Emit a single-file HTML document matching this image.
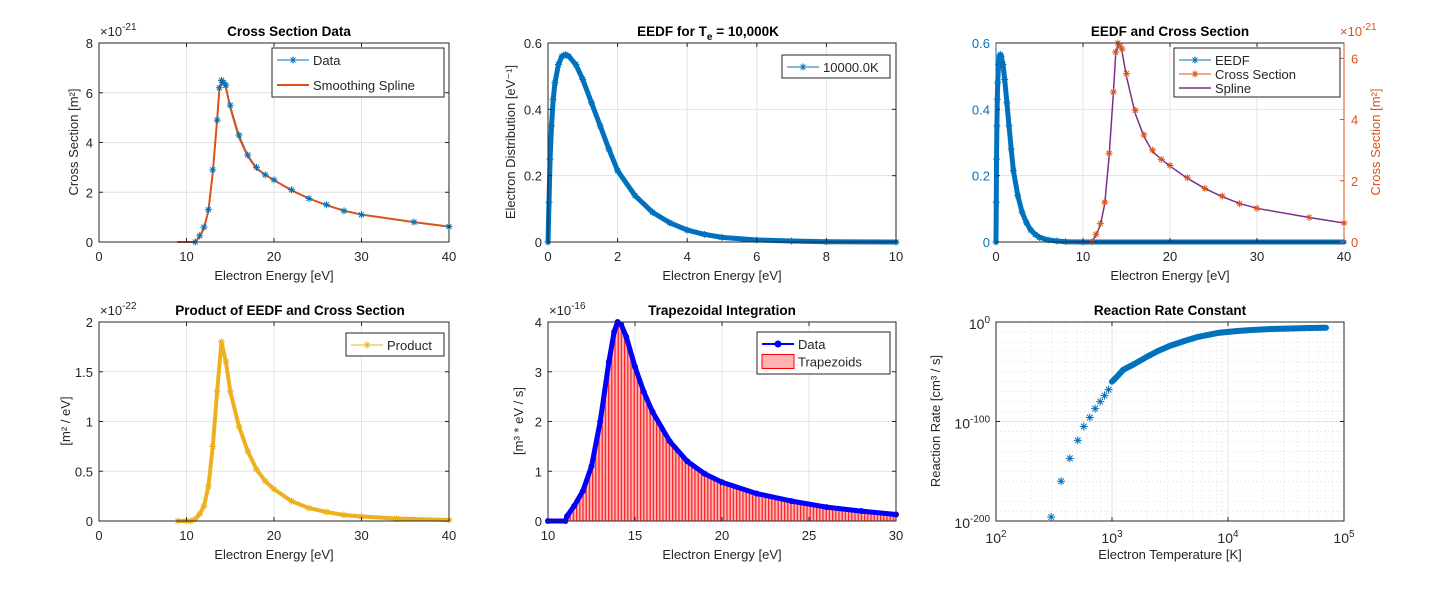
<!DOCTYPE html>
<html><head><meta charset="utf-8"><style>
body{margin:0;background:#fff;}
svg{font-family:"Liberation Sans",sans-serif;}
</style></head><body>
<svg id="fig" width="1443" height="587" xmlns="http://www.w3.org/2000/svg"></svg>
<script>
// ---- data ----
const csE=[11,11.5,12,12.5,13,13.5,13.75,14,14.25,14.5,15,16,17,18,19,20,22,24,26,28,30,36,40];
const csV=[0,0.25,0.6,1.3,2.9,4.9,6.2,6.5,6.4,6.3,5.5,4.3,3.5,3.0,2.7,2.5,2.1,1.75,1.5,1.25,1.1,0.8,0.62];
const splE=[9,10.5,11,11.5,12,12.5,13,13.5,13.75,14,14.25,14.5,15,16,17,18,19,20,22,24,26,28,30,36,40];
const splV=[0,0,0,0.22,0.55,1.25,2.8,4.9,6.1,6.45,6.4,6.2,5.4,4.2,3.45,2.95,2.7,2.48,2.08,1.75,1.48,1.26,1.1,0.8,0.62];
const eedfE=[0,0.03,0.06,0.1,0.15,0.2,0.3,0.4,0.5,0.6,0.8,1,1.25,1.5,1.75,2,2.5,3,3.5,4,4.5,5,6,7,8,10];
const eedfV=[0,0.12,0.25,0.35,0.43,0.48,0.535,0.56,0.565,0.56,0.535,0.49,0.42,0.35,0.28,0.215,0.14,0.09,0.058,0.036,0.023,0.014,0.006,0.003,0.001,0];
const eedfTailE=[10,15,20,25,30,35,40];
const eedfTailV=[0,0,0,0,0,0,0];
const prodE=[9,10,10.5,11,11.5,12,12.5,13,13.5,14,14.5,15,16,17,18,19,20,22,24,26,28,30,34,40];
const prodV=[0,0,0,0.02,0.07,0.15,0.35,0.75,1.3,1.8,1.6,1.3,0.95,0.7,0.52,0.4,0.32,0.2,0.13,0.09,0.06,0.045,0.025,0.01];
const trE=[10,11,11.1,11.5,12,12.5,13,13.5,13.8,14,14.2,14.5,15,15.5,16,17,18,19,20,22,24,26,28,30];
const trV=[0,0,0.1,0.3,0.6,1.1,2.0,3.2,3.8,4.0,3.95,3.7,3.1,2.6,2.2,1.6,1.2,0.95,0.78,0.55,0.4,0.28,0.2,0.13];
const rrT=[299,364,433,507,571,644,716,791,862,934];
const rrK=[-196,-160,-137,-119,-105,-96,-87,-80,-74,-68];
const rrDenseT=[1000,1125,1250,1570,2000,2500,3150,4240,5500,8200,12000,16000,24000,35000,50000,70000];
const rrDenseK=[-60,-54,-48,-42,-35,-29,-24,-19,-15,-11,-9,-8,-7,-6.5,-6,-5.8];

const NS="http://www.w3.org/2000/svg";
const svg=document.getElementById('fig');
function el(tag,attrs,parent){const e=document.createElementNS(NS,tag);for(const k in attrs)e.setAttribute(k,attrs[k]);(parent||svg).appendChild(e);return e;}
function txt(s,x,y,o,parent){const t=el('text',Object.assign({x:x,y:y,'font-size':13,fill:'#262626'},o||{}),parent);t.textContent=s;return t;}
const BLUE='#0072BD',OR='#D95319',YEL='#EDB120',PUR='#7E2F8E';

function axes(name,L,T,R,B,xr,yr,xt,yt,opts){
  const g=el('g',{});
  
  
  const sx=v=>L+(v-xr[0])/(xr[1]-xr[0])*(R-L);
  const sy=v=>B-(v-yr[0])/(yr[1]-yr[0])*(B-T);
  el('rect',{x:L,y:T,width:R-L,height:B-T,fill:'#fff'},g);
  if(opts.minor){opts.minor.forEach(m=>{ if(m.x!==undefined) el('line',{x1:sx(m.x),x2:sx(m.x),y1:T,y2:B,stroke:'#d8d8d8','stroke-width':0.8,'stroke-dasharray':'1,3'},g); else el('line',{x1:L,x2:R,y1:sy(m.y),y2:sy(m.y),stroke:'#d8d8d8','stroke-width':0.8,'stroke-dasharray':'1,3'},g);});}
  xt.forEach((v,i)=>{const x=sx(v);el('line',{x1:x,x2:x,y1:T,y2:B,stroke:'#e3e3e3'},g);
    if(opts.xl){txt(opts.xl[i],x,B+19,{'text-anchor':'middle'},g);}});
  yt.forEach((v,i)=>{const y=sy(v);el('line',{x1:L,x2:R,y1:y,y2:y,stroke:'#e3e3e3'},g);
    if(opts.yl){txt(opts.yl[i],L-6,y+5,{'text-anchor':'end'},g);}});
  return {g,sx,sy,L,T,R,B,xt,yt,box(){
    el('rect',{x:L,y:T,width:R-L,height:B-T,fill:'none',stroke:'#262626','stroke-width':1},g);
    xt.forEach(v=>{const x=sx(v);el('line',{x1:x,x2:x,y1:B,y2:B-4,stroke:'#262626'},g);el('line',{x1:x,x2:x,y1:T,y2:T+4,stroke:'#262626'},g);});
    yt.forEach(v=>{const y=sy(v);el('line',{x1:L,x2:L+4,y1:y,y2:y,stroke:'#262626'},g);if(!opts.noRightTicks)el('line',{x1:R,x2:R-4,y1:y,y2:y,stroke:'#262626'},g);});
  }};
}
function star(x,y,c,g,r){r=r||3.5;const d=`M${x-r},${y}H${x+r}M${x},${y-r}V${y+r}M${x-r*0.7},${y-r*0.7}L${x+r*0.7},${y+r*0.7}M${x-r*0.7},${y+r*0.7}L${x+r*0.7},${y-r*0.7}`;return el('path',{d:d,stroke:c,'stroke-width':1,fill:'none'},g);}
function line(ax,X,Y,c,w,name){const p=X.map((v,i)=>ax.sx(v).toFixed(1)+','+ax.sy(Y[i]).toFixed(1)).join(' ');const e=el('polyline',{points:p,fill:'none',stroke:c,'stroke-width':w,'stroke-linejoin':'round','stroke-linecap':'round'},ax.g);return e;}
function title(s,x,y,name){const t=txt(s,x,y,{'text-anchor':'middle','font-weight':'bold','font-size':13.5,fill:'#000'});return t;}
function xlab(s,x,y){const t=txt(s,x,y,{'text-anchor':'middle'});return t;}
function ylab(s,x,y,c){const t=txt(s,0,0,{'text-anchor':'middle',transform:`translate(${x},${y}) rotate(-90)`,fill:c||'#262626'});return t;}
function expo(b,e,x,y,c){const t=txt('×10',x,y,{fill:c||'#262626'});const s=el('tspan',{dy:-6,'font-size':10},t);s.textContent=e;}
function legend(x,y,w,h,items,name){const g=el('g',{});
  el('rect',{x:x,y:y,width:w,height:h,fill:'#fff',stroke:'#262626'},g);
  items.forEach((it,i)=>{const cy=y+12+i*(it.dy||17.5);
    if(it.patch){el('rect',{x:x+5,y:cy-7,width:32,height:14,fill:'#ffb3b3',stroke:'red'},g);}
    else{el('line',{x1:x+5,x2:x+37,y1:cy,y2:cy,stroke:it.c,'stroke-width':it.w||1},g);if(it.m==='star')star(x+21,cy,it.c,g);if(it.m==='dot')el('circle',{cx:x+21,cy:cy,r:3.5,fill:it.c},g);}
    txt(it.t,x+41,cy+5,{},g);});}

// ---- Plot 1 ----
let a1=axes('cross-section-plot',99,43,449,242,[0,40],[0,8],[0,10,20,30,40],[0,2,4,6,8],{xl:['0','10','20','30','40'],yl:['0','2','4','6','8']});
line(a1,csE,csV,BLUE,1,'data-line');
line(a1,splE,splV,OR,2,'spline-line');
csE.forEach((v,i)=>{const s=star(a1.sx(v),a1.sy(csV[i]),BLUE,a1.g);});
a1.box();
title('Cross Section Data',289,36,'plot1-title');xlab('Electron Energy [eV]',274,280);ylab('Cross Section [m²]',78,142);expo(10,'-21',100,36);
legend(272,48,172,49,[{t:'Data',c:BLUE,m:'star'},{t:'Smoothing Spline',c:OR,w:2,dy:25}],'plot1-legend');

// ---- Plot 2 ----
let a2=axes('eedf-plot',548,43,896,242,[0,10],[0,0.6],[0,2,4,6,8,10],[0,0.2,0.4,0.6],{xl:['0','2','4','6','8','10'],yl:['0','0.2','0.4','0.6']});
line(a2,eedfE,eedfV,BLUE,5,'eedf-line');
eedfE.forEach((v,i)=>{const s=star(a2.sx(v),a2.sy(eedfV[i]),BLUE,a2.g);});
a2.box();
const t2=title('EEDF for T',708,36,'plot2-title');const ts=el('tspan',{dy:4,'font-size':10},t2);ts.textContent='e';const ts2=el('tspan',{dy:-4},t2);ts2.textContent=' = 10,000K';
xlab('Electron Energy [eV]',722,280);ylab('Electron Distribution [eV⁻¹]',515,142);
legend(782,55,108,23,[{t:'10000.0K',c:BLUE,m:'star'}],'plot2-legend');

// ---- Plot 3 ----
let a3=axes('eedf-cross-section-plot',996,43,1344,242,[0,40],[0,0.6],[0,10,20,30,40],[0,0.2,0.4,0.6],{xl:['0','10','20','30','40'],noRightTicks:true});
const sy3r=v=>242-v/6.5*199;
line(a3,eedfE,eedfV,BLUE,5,'eedf-line');
line(a3,eedfTailE,eedfTailV,BLUE,5,'eedf-tail-line');
eedfE.forEach((v,i)=>{star(a3.sx(v),a3.sy(eedfV[i]),BLUE,a3.g);});
const sp3=el('polyline',{points:splE.map((v,i)=>a3.sx(v)+','+sy3r(splV[i])).join(' '),fill:'none',stroke:PUR,'stroke-width':1.5},a3.g);

csE.forEach((v,i)=>{star(a3.sx(v),sy3r(csV[i]),OR,a3.g);});
a3.box();
[0,0.2,0.4,0.6].forEach(v=>txt(String(v),990,a3.sy(v)+5,{'text-anchor':'end',fill:BLUE}));
[0,2,4,6].forEach(v=>{const y=sy3r(v);el('line',{x1:1344,x2:1340,y1:y,y2:y,stroke:OR});txt(String(v),1351,y+5,{fill:OR});});
el('line',{x1:1344,x2:1344,y1:43,y2:242,stroke:OR});el('line',{x1:996,x2:996,y1:43,y2:242,stroke:BLUE});
title('EEDF and Cross Section',1170,36,'plot3-title');xlab('Electron Energy [eV]',1170,280);ylab('Cross Section [m²]',1380,142,OR);expo(10,'-21',1340,36,OR);
legend(1174,48,166,49,[{t:'EEDF',c:BLUE,m:'star',dy:14},{t:'Cross Section',c:OR,m:'star',dy:14},{t:'Spline',c:PUR,w:1.5,dy:14}],'plot3-legend');

// ---- Plot 4 ----
let a4=axes('product-plot',99,322,449,521,[0,40],[0,2],[0,10,20,30,40],[0,0.5,1,1.5,2],{xl:['0','10','20','30','40'],yl:['0','0.5','1','1.5','2']});
line(a4,prodE,prodV,YEL,4,'product-line');
prodE.forEach((v,i)=>{const s=star(a4.sx(v),a4.sy(prodV[i]),YEL,a4.g);});
a4.box();
title('Product of EEDF and Cross Section',290,315,'plot4-title');xlab('Electron Energy [eV]',274,559);ylab('[m² / eV]',70,421);expo(10,'-22',100,315);
legend(346,333,98,23,[{t:'Product',c:YEL,m:'star'}],'plot4-legend');

// ---- Plot 5 ----
let a5=axes('trapezoidal-plot',548,322,896,521,[10,30],[0,4],[10,15,20,25,30],[0,1,2,3,4],{xl:['10','15','20','25','30'],yl:['0','1','2','3','4']});
const defs=el('defs',{});const pat=el('pattern',{id:'hatch',width:3.2,height:10,patternUnits:'userSpaceOnUse'},defs);
el('rect',{width:3.2,height:10,fill:'#ffb3b3'},pat);el('rect',{width:1.2,height:10,fill:'#ff2020'},pat);
const poly=trE.map((v,i)=>a5.sx(v)+','+a5.sy(trV[i])).join(' ')+` ${a5.sx(30)},${a5.sy(0)} ${a5.sx(10)},${a5.sy(0)}`;
const tz=el('polygon',{points:poly,fill:'url(#hatch)',stroke:'red'},a5.g);
line(a5,trE,trV,'#0000ff',5,'data-line');
trE.forEach((v,i)=>el('circle',{cx:a5.sx(v),cy:a5.sy(trV[i]),r:3,fill:'#0000ff'},a5.g));
a5.box();
title('Trapezoidal Integration',722,315,'plot5-title');xlab('Electron Energy [eV]',722,559);ylab('[m³ * eV / s]',523,421);expo(10,'-16',549,315);
legend(757,332,133,42,[{t:'Data',c:'#0000ff',m:'dot',w:2,dy:19},{t:'Trapezoids',patch:true}],'plot5-legend');

// ---- Plot 6 ----
const minor=[];for(let d=2;d<5;d++)for(let m=2;m<10;m++)minor.push({x:d+Math.log10(m)});
for(let k=-190;k<0;k+=10)if(k!==-100)minor.push({y:k});
let a6=axes('reaction-rate-plot',996,322,1344,521,[2,5],[-200,0],[2,3,4,5],[-200,-100,0],{minor:minor});
line(a6,rrDenseT.map(Math.log10),rrDenseK,BLUE,6,'rate-dense-line');
rrT.forEach((v,i)=>{const s=star(a6.sx(Math.log10(v)),a6.sy(rrK[i]),BLUE,a6.g,4);});
a6.box();
[2,3,4,5].forEach(v=>{const t=txt('10',a6.sx(v),543,{'text-anchor':'middle','font-size':14});const s=el('tspan',{dy:-6,'font-size':10},t);s.textContent=String(v);});
[[-200,'-200'],[0,'0'],[-100,'-100']].forEach(([v,s])=>{const t=txt('10',990,a6.sy(v)+7,{'text-anchor':'end','font-size':14});const sp=el('tspan',{dy:-6,'font-size':10},t);sp.textContent=s;});
title('Reaction Rate Constant',1170,315,'plot6-title');xlab('Electron Temperature [K]',1170,559);ylab('Reaction Rate [cm³ / s]',940,421);
</script>
</body></html>
